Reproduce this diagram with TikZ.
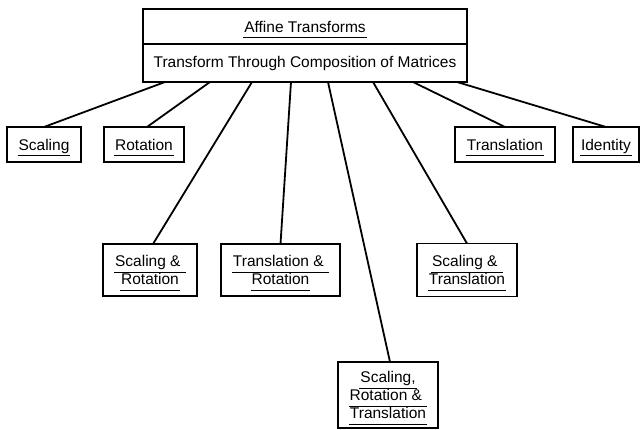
\documentclass[tikz,border=0pt]{standalone}
\usepackage{fontspec}
\usepackage{amsmath}
\setmainfont{Liberation Sans}
\usetikzlibrary{positioning}
\newcommand{\ulword}[1]{\smash[b]{\underline{\kern1pt #1\vphantom{g}\kern1pt}}}

\begin{document}
\begin{tikzpicture}[
    x=1pt, y=-1pt,
    box/.style={rectangle, draw, line width=1.8pt, inner sep=0pt, outer sep=0pt, align=center, minimum height=35pt, font=\fontsize{15.5}{18}\selectfont},
    link/.style={line width=1.8pt},
    node distance=0pt
]
    \useasboundingbox (0,0) rectangle (640,430);

    % Affine Transforms (header)
    \node[box, minimum width=324pt] (affname) at (305,26.5) {\ulword{Affine Transforms}};
    \node[box, minimum width=324pt, minimum height=38pt, below=0pt of affname] (affbody) {Transform Through Composition of Matrices};

    % Single transforms
    \node[box, minimum width=74pt] (scaling) at (44,144.5) {\ulword{Scaling}};
    \node[box, minimum width=80pt] (rotation) at (144,144.5) {\ulword{Rotation}};
    \node[box, minimum width=100pt] (translation) at (505,144.5) {\ulword{Translation}};
    \node[box, minimum width=66pt] (identity) at (606,144.5) {\ulword{Identity}};

    % Compositions
    \node[box, minimum width=94pt, minimum height=52pt] (scalrot) at (150,270) {\ulword{Scaling \&\ }\\\ulword{Rotation}};
    \node[box, minimum width=119pt, minimum height=52pt] (transrot) at (280.5,270) {\ulword{Translation \&\ }\\\ulword{Rotation}};
    \node[box, minimum width=100pt, minimum height=53pt] (scaltrans) at (467,270) {\ulword{Scaling \&\ }\\\ulword{Translation}};
    \node[box, minimum width=100pt, minimum height=66pt] (scalrottrans) at (388,395) {\ulword{Scaling,}\\\ulword{Rotation \&\ }\\\ulword{Translation}};

    % Links from the header
    \draw[link] ([xshift=-140pt]affbody.south) -- (scaling.north);
    \draw[link] ([xshift=-95pt]affbody.south) -- ([xshift=3pt]rotation.north);
    \draw[link] ([xshift=-53pt]affbody.south) -- ([xshift=3pt]scalrot.north);
    \draw[link] ([xshift=-14pt]affbody.south) -- (transrot.north);
    \draw[link] ([xshift=23pt]affbody.south) -- ([xshift=2pt]scalrottrans.north);
    \draw[link] ([xshift=68pt]affbody.south) -- (scaltrans.north);
    \draw[link] ([xshift=108pt]affbody.south) -- (translation.north);
    \draw[link] ([xshift=152pt]affbody.south) -- (identity.north);

\end{tikzpicture}
\end{document}
